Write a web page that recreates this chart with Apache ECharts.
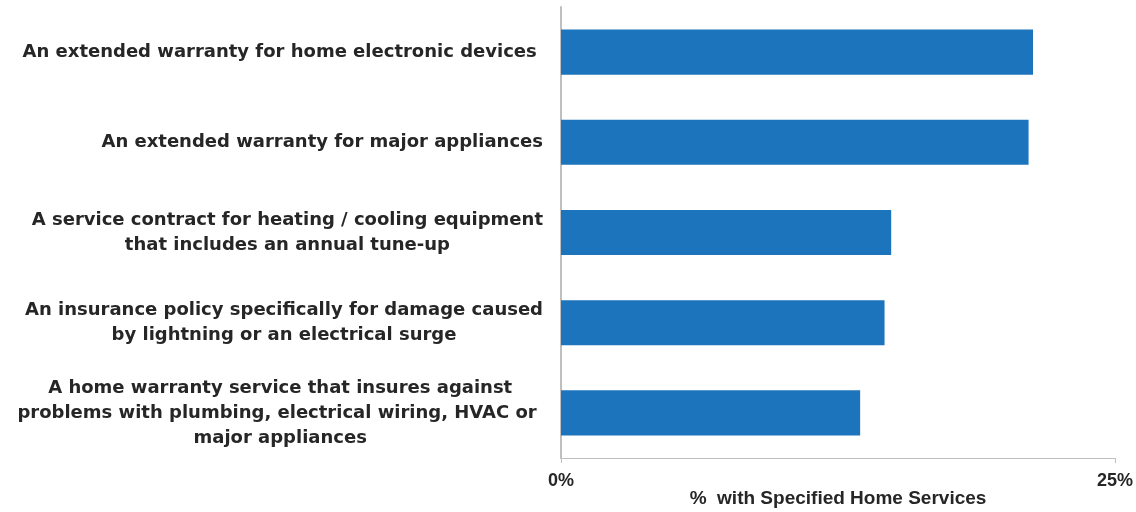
<!DOCTYPE html>
<html>
<head>
<meta charset="utf-8">
<script src="https://cdn.jsdelivr.net/npm/echarts@6/dist/echarts.min.js"></script>
<style>
html,body{margin:0;padding:0;background:#fff;}
#chart{width:1136px;height:512px;}
</style>
</head>
<body>
<div id="chart"></div>
<script>
const categories = [
  "An extended warranty for home electronic devices ",
  "An extended warranty for major appliances",
  "A service contract for heating / cooling equipment\nthat includes an annual tune-up",
  "An insurance policy specifically for damage caused\nby lightning or an electrical surge",
  "A home warranty service that insures against\nproblems with plumbing, electrical wiring, HVAC or \nmajor appliances"
];
const values = [21.3, 21.1, 14.9, 14.6, 13.5];
const xTicks = [0, 25];
const axisName = "%  with Specified Home Services";

const FONT = "'Liberation Sans', Arial, sans-serif";
const WIDE = "'DejaVu Sans', 'Liberation Sans', sans-serif";
const chart = echarts.init(document.getElementById('chart'));
chart.setOption({
  animation: false,
  grid: { left: 561, right: 21, top: 7, bottom: 54, containLabel: false, outerBoundsMode: 'none' },
  xAxis: {
    type: 'value',
    min: 0, max: 25, interval: 25,
    name: axisName,
    nameLocation: 'middle',
    nameGap: 31,
    nameMoveOverlap: false,
    nameTextStyle: { color: '#262626', fontWeight: 'bold', fontSize: 19, fontFamily: FONT },
    axisLine: { show: true, lineStyle: { color: '#bfbfbf', width: 1 } },
    axisTick: { show: true, length: 5, lineStyle: { color: '#bfbfbf' } },
    splitLine: { show: false },
    axisLabel: {
      margin: 14,
      color: '#262626', fontWeight: 'bold', fontSize: 18, fontFamily: FONT,
      formatter: v => xTicks.includes(v) ? v + '%' : ''
    }
  },
  yAxis: {
    type: 'category',
    data: categories,
    inverse: true,
    axisLine: { show: true, lineStyle: { color: '#bfbfbf', width: 2 } },
    axisTick: { show: false },
    axisLabel: {
      margin: 18,
      formatter: v => v.split('\n').map(s => '{c|' + s + '}').join('\n'),
      rich: {
        c: { align: 'center', color: '#262626', fontWeight: 'bold', fontSize: 18, fontFamily: WIDE, lineHeight: 25 }
      }
    }
  },
  series: [{
    type: 'bar',
    data: values,
    barWidth: '50%',
    itemStyle: { color: '#1c75bc' }
  }]
});
</script>
</body>
</html>
